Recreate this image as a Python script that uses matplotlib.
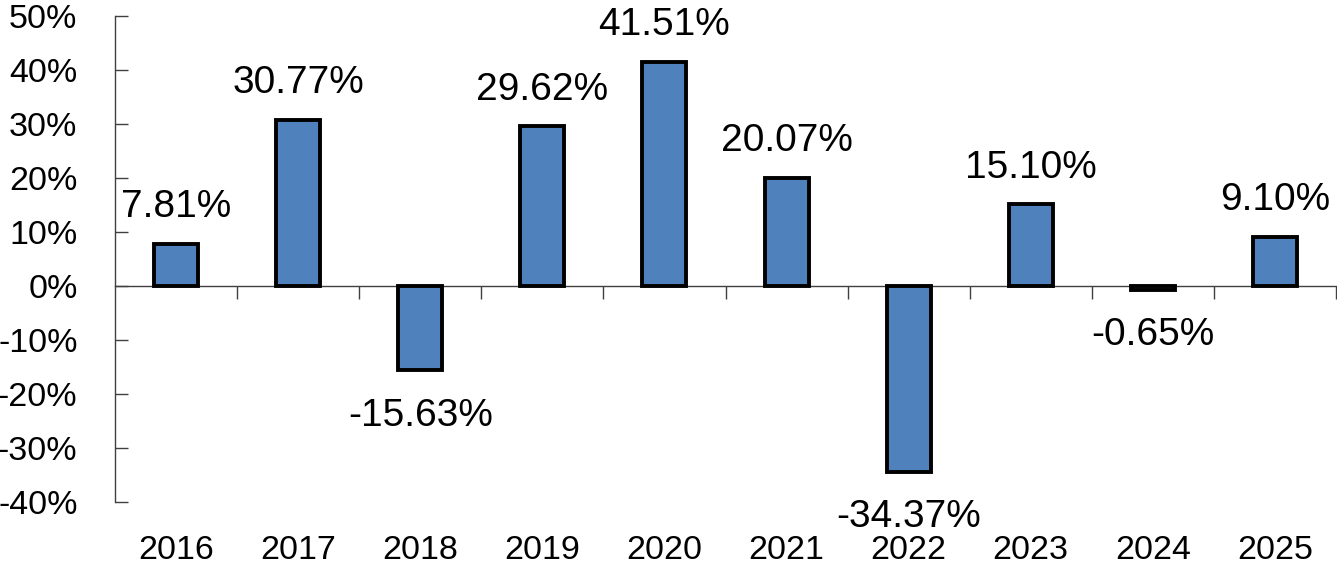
import matplotlib
matplotlib.use("Agg")
import matplotlib.pyplot as plt
from matplotlib import font_manager
from matplotlib.ticker import FixedLocator, PercentFormatter

years = ["2016", "2017", "2018", "2019", "2020", "2021", "2022", "2023", "2024", "2025"]
returns = [7.81, 30.77, -15.63, 29.62, 41.51, 20.07, -34.37, 15.10, -0.65, 9.10]
y_ticks = [50, 40, 30, 20, 10, 0, -10, -20, -30, -40]

plt.rcParams["font.family"] = ["Liberation Sans", "DejaVu Sans"]
plt.rcParams["axes.unicode_minus"] = False

# axis labels in the reference are a narrow Arial; use one if present
names = {f.name for f in font_manager.fontManager.ttflist}
if "Liberation Sans Narrow" in names:
    narrow, narrow_size = "Liberation Sans Narrow", 28
else:
    narrow, narrow_size = "Liberation Sans", 24.5

fig = plt.figure(figsize=(13.37, 5.66), dpi=100)
# axes box in pixels: left 115, right 1336, top 16, bottom 502
ax = fig.add_axes([115 / 1337, 1 - 502 / 566, (1336 - 115) / 1337, (502 - 16) / 566])

x = list(range(len(years)))
ax.bar(x, returns, width=0.36, color="#4F81BD", edgecolor="black", linewidth=2.8, zorder=3)

ax.set_xlim(-0.5, len(years) - 0.5)
ax.set_ylim(-40, 50)

for s in ["top", "right"]:
    ax.spines[s].set_visible(False)
ax.spines["bottom"].set_position(("data", 0))
for s in ["left", "bottom"]:
    ax.spines[s].set_color("#404040")
    ax.spines[s].set_linewidth(1.0)

ax.yaxis.set_major_locator(FixedLocator(y_ticks))
ax.yaxis.set_major_formatter(PercentFormatter(decimals=0))
ax.tick_params(axis="y", direction="in", length=9, width=1.0, color="#404040", pad=27,
               labelsize=narrow_size)
for lab in ax.get_yticklabels():
    lab.set_family(narrow)

ax.set_xticks([i + 0.5 for i in x])
ax.set_xticklabels([])
ax.tick_params(axis="x", direction="out", length=9, width=1.0, color="#404040")

for i, yr in enumerate(years):
    ax.annotate(yr, xy=(i, 0), xycoords=("data", "axes fraction"), xytext=(0, -41),
                textcoords="offset points", ha="center", va="baseline",
                fontsize=narrow_size, family=narrow)

for i, v in enumerate(returns):
    if v >= 0:
        ax.annotate(f"{v:.2f}%", xy=(i, v), xytext=(0, 19), textcoords="offset points",
                    ha="center", va="baseline", fontsize=28)
    else:
        ax.annotate(f"{v:.2f}%", xy=(i, v), xytext=(0, -20), textcoords="offset points",
                    ha="center", va="top", fontsize=28)

fig.savefig("out.png", dpi=100)
